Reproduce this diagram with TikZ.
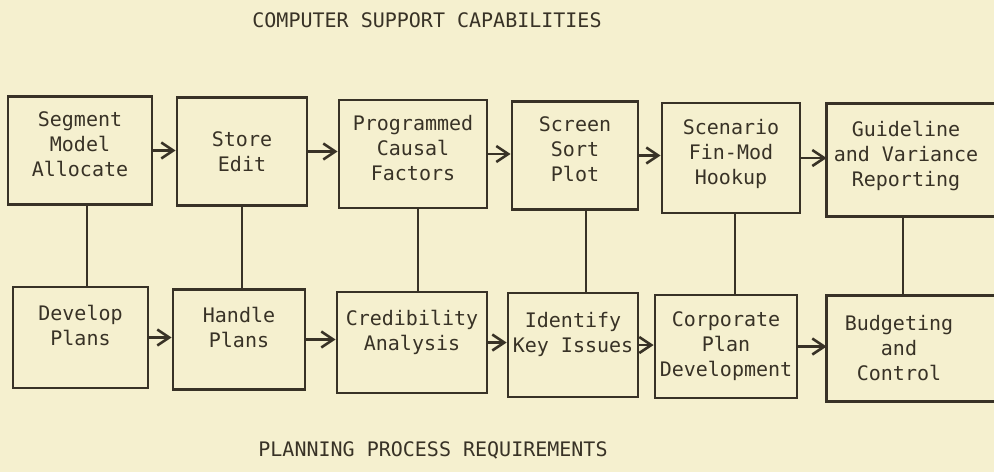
\documentclass[tikz,border=0pt]{standalone}
\usepackage{fontspec}
\setmonofont{DejaVu Sans Mono}
\usetikzlibrary{arrows.meta}

\definecolor{paper}{RGB}{245,240,207}
\definecolor{ink}{RGB}{56,50,38}

\begin{document}
\begin{tikzpicture}[x=0.5pt, y=-0.5pt,
    font=\fontsize{10}{12.5}\selectfont\ttfamily, text=ink,
    box/.style={draw=ink, line width=1.4pt, align=center, inner sep=0pt, minimum height=54pt},
    flow/.style={draw=ink, line width=1.3pt, -{Straight Barb[length=6pt,width=8pt]}},
    link/.style={draw=ink, line width=1.2pt}]
    \fill[paper] (0,0) rectangle (994,472);
    \clip (0,0) rectangle (994,472);

    \node (toptitle) at (427,20) {COMPUTER SUPPORT CAPABILITIES};
    \node (bottitle) at (433,450) {PLANNING PROCESS REQUIREMENTS};

    % computer support row (text sits a little high in each box)
    \node[box, minimum width=72pt] (T1) at (80,150.5) {Segment\\Model\\Allocate\\[-6pt]~};
    \node[box, minimum width=65pt] (T2) at (242,151.5) {Store\\Edit};
    \node[box, minimum width=74pt] (T3) at (413,154) {Programmed\\Causal\\Factors\\[-6pt]~};
    \node[box, minimum width=63pt] (T4) at (575,155.5) {Screen\\Sort\\Plot\\[-6pt]~};
    \node[box, minimum width=69pt, minimum height=55pt] (T5) at (731,158) {Scenario\\Fin-Mod\\Hookup\\[-6pt]~};
    \node[box, draw=none, minimum width=78pt, minimum height=55pt] (T6) at (906,160) {Guideline\\and Variance\\Reporting\\[-6pt]~};

    % planning process row
    \node[box, minimum width=67.5pt, minimum height=50.5pt] (B1) at (80.5,337.5) {Develop\\Plans\\~};
    \node[box, minimum width=66pt, minimum height=50pt] (B2) at (239,339.5) {Handle\\Plans\\~};
    \node[box, minimum width=75pt, minimum height=50.5pt] (B3) at (412,342.5) {Credibility\\Analysis\\~};
    \node[box, minimum width=65pt, minimum height=52pt] (B4) at (573,345) {Identify\\Key Issues\\~};
    \node[box, minimum width=71pt, minimum height=51.5pt] (B5) at (726,346.5) {Corporate\\Plan\\Development};
    \node[box, draw=none, minimum width=71pt, minimum height=51.5pt] (B6) at (899,348.5) {Budgeting\\and\\Control};

    % last boxes run off the right edge
    \draw[ink, line width=1.4pt] (T6.north west) ++(200,0) -- (T6.north west) -- (T6.south west) -- ++(200,0);
    \draw[ink, line width=1.4pt] (B6.north west) ++(200,0) -- (B6.north west) -- (B6.south west) -- ++(200,0);

    \foreach \a/\b in {T1/T2,T2/T3,T3/T4,T4/T5,T5/T6,B1/B2,B2/B3,B3/B4,B4/B5,B5/B6}
        \draw[flow] (\a.east) -- (\a.east -| \b.west);

    \foreach \i/\dx in {1/3.5pt,2/0pt,3/2.5pt,4/5.5pt,5/2pt,6/-1.5pt}
        \draw[link] ([xshift=\dx]T\i.south) -- ([xshift=\dx]T\i.south |- B\i.north);
\end{tikzpicture}
\end{document}
